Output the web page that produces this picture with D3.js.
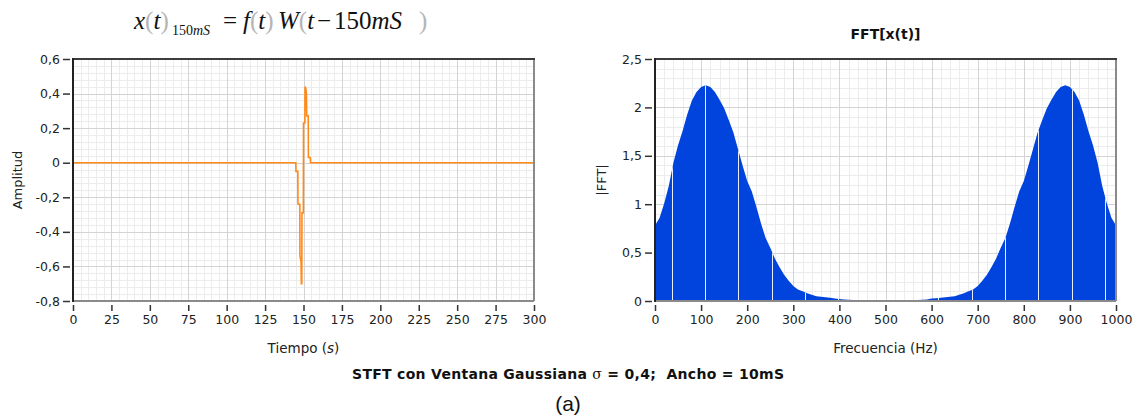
<!DOCTYPE html>
<html><head><meta charset="utf-8">
<script src="https://cdn.jsdelivr.net/npm/d3@7"></script>
<style>
html,body{margin:0;padding:0;background:#fff;}
svg{display:block;}
text{font-family:"DejaVu Sans",sans-serif;}
</style></head>
<body>
<svg id="chart" width="1141" height="418"></svg>
<script>
// ---------- data ----------
const timeTicks = [0,25,50,75,100,125,150,175,200,225,250,275,300];
const ampTicks  = [-0.8,-0.6,-0.4,-0.2,0,0.2,0.4,0.6];
const timeT = [0,145.0,145.1,146.3,146.4,147.6,147.7,148.4,148.6,148.9,149.0,149.9,150.0,150.9,151.0,151.5,151.9,152.1,153.1,153.2,154.4,154.6,300];
const timeV = [0,0,-0.05,-0.05,-0.24,-0.24,-0.54,-0.57,-0.70,-0.70,-0.29,-0.29,0.23,0.23,0.44,0.43,0.40,0.27,0.27,0.03,0.03,0,0];

const freqTicks = [0,100,200,300,400,500,600,700,800,900,1000];
const fftTicks  = [0,0.5,1,1.5,2,2.5];
const freqHz = [0,10,20,30,40,50,60,70,80,90,100,
  110,120,130,140,150,160,170,180,190,200,
  210,220,230,240,250,260,270,280,290,300,
  310,320,330,340,350,360,370,380,390,400,
  410,420,430,440,450,460,470,480,490,500,
  510,520,530,540,550,560,570,580,590,600,
  610,620,630,640,650,660,670,680,690,700,
  710,720,730,740,750,760,770,780,790,800,
  810,820,830,840,850,860,870,880,890,900,
  910,920,930,940,950,960,970,980,990,1000];
const fftMag = [0.78,0.86,1.01,1.19,1.43,1.61,1.76,1.93,2.07,2.16,2.21,
  2.23,2.21,2.16,2.08,1.99,1.87,1.74,1.57,1.40,1.24,
  1.13,0.97,0.80,0.65,0.55,0.44,0.35,0.27,0.21,0.155,
  0.12,0.10,0.08,0.065,0.05,0.044,0.038,0.033,0.025,0.02,
  0.016,0.012,0.010,0.008,0.007,0.006,0.006,0.006,0.005,0.005,
  0.005,0.006,0.006,0.006,0.007,0.008,0.010,0.012,0.016,0.025,
  0.028,0.033,0.038,0.044,0.05,0.065,0.08,0.10,0.12,0.155,
  0.21,0.27,0.35,0.44,0.55,0.65,0.80,0.97,1.13,1.24,
  1.40,1.57,1.74,1.87,1.99,2.08,2.16,2.21,2.23,2.21,
  2.16,2.07,1.93,1.76,1.61,1.43,1.19,1.01,0.86,0.78];

// ---------- layout ----------
const svg = d3.select("#chart");
const fmt = v => String(Math.round(v*10)/10).replace(".", ",");

const L = {x0:73, x1:534, y0:59, y1:301};
const R = {x0:655, x1:1116, y0:59, y1:301};

const xL = d3.scaleLinear().domain([0,300]).range([L.x0,L.x1]);
const yL = d3.scaleLinear().domain([-0.8,0.6]).range([L.y1,L.y0]);
const xR = d3.scaleLinear().domain([0,1000]).range([R.x0,R.x1]);
const yR = d3.scaleLinear().domain([0,2.5]).range([R.y1,R.y0]);

function grid(g, x, y, box, xMinorStep, yMinorStep, xMajor, yMajor){
  const gg = g.append("g").attr("shape-rendering","crispEdges");
  const [xa,xb] = x.domain(), [ya,yb] = y.domain();
  const xm = d3.range(Math.round((xb-xa)/xMinorStep)+1).map(i=>xa+i*xMinorStep);
  const ym = d3.range(Math.round((yb-ya)/yMinorStep)+1).map(i=>ya+i*yMinorStep);
  gg.selectAll(".vm").data(xm).join("line")
    .attr("x1",d=>Math.round(x(d))+0.5).attr("x2",d=>Math.round(x(d))+0.5)
    .attr("y1",box.y0).attr("y2",box.y1).attr("stroke","#ececec");
  gg.selectAll(".hm").data(ym).join("line")
    .attr("y1",d=>Math.round(y(d))+0.5).attr("y2",d=>Math.round(y(d))+0.5)
    .attr("x1",box.x0).attr("x2",box.x1).attr("stroke","#ececec");
  gg.selectAll(".vM").data(xMajor).join("line")
    .attr("x1",d=>Math.round(x(d))+0.5).attr("x2",d=>Math.round(x(d))+0.5)
    .attr("y1",box.y0).attr("y2",box.y1).attr("stroke","#d4d4d4").attr("stroke-width",1.5);
  gg.selectAll(".hM").data(yMajor).join("line")
    .attr("y1",d=>Math.round(y(d))+0.5).attr("y2",d=>Math.round(y(d))+0.5)
    .attr("x1",box.x0).attr("x2",box.x1).attr("stroke","#d4d4d4").attr("stroke-width",1.5);
}

function frame(g, box){
  g.append("line").attr("x1",box.x1).attr("x2",box.x1).attr("y1",box.y0).attr("y2",box.y1)
    .attr("stroke","#8a8a8a").attr("stroke-width",2);
  g.append("line").attr("x1",box.x0).attr("x2",box.x1).attr("y1",box.y1).attr("y2",box.y1)
    .attr("stroke","#8a8a8a").attr("stroke-width",2);
  g.append("line").attr("x1",box.x0).attr("x2",box.x1+1).attr("y1",box.y0).attr("y2",box.y0)
    .attr("stroke","#3c3c3c").attr("stroke-width",2);
  g.append("line").attr("x1",box.x0).attr("x2",box.x0).attr("y1",box.y0-1).attr("y2",box.y1+1)
    .attr("stroke","#222").attr("stroke-width",2);
}

function axes(g, x, y, box, xt, yt){
  const ax = g.append("g").attr("transform",`translate(0,${box.y1+4})`)
    .call(d3.axisBottom(x).tickValues(xt).tickFormat(fmt).tickSize(6).tickPadding(4));
  const ay = g.append("g").attr("transform",`translate(${box.x0-3},0)`)
    .call(d3.axisLeft(y).tickValues(yt).tickFormat(fmt).tickSize(7).tickPadding(3));
  [ax,ay].forEach(a=>{
    a.select(".domain").remove();
    a.selectAll(".tick line").attr("stroke","#333").attr("stroke-width",1.5);
    a.selectAll(".tick text").attr("fill","#222").style("font-family","DejaVu Sans").style("font-size","12.5px");
  });
}

// ---------- left chart ----------
const gl = svg.append("g");
grid(gl, xL, yL, L, 5, 0.04, timeTicks, ampTicks);
const lineL = d3.line().x((d,i)=>xL(timeT[i])).y((d,i)=>yL(timeV[i]));
gl.append("path").datum(timeT).attr("d",lineL).attr("fill","none")
  .attr("stroke","#ff8a1a").attr("stroke-width",1.6).attr("stroke-linejoin","miter");
frame(gl, L);
axes(gl, xL, yL, L, timeTicks, ampTicks);

gl.append("text").attr("transform",`translate(22,${(L.y0+L.y1)/2}) rotate(-90)`)
  .attr("text-anchor","middle").style("font-size","13px").attr("fill","#222").text("Amplitud");
const tl = gl.append("text").attr("x",(L.x0+L.x1)/2).attr("y",353).attr("text-anchor","middle")
  .style("font-size","13.5px").attr("fill","#222");
tl.append("tspan").text("Tiempo (");
tl.append("tspan").style("font-style","italic").text("s");
tl.append("tspan").text(")");

// formula title (pieces anchored horizontally)
const ft = svg.append("text").attr("y",29)
  .style("font-family","Liberation Serif").style("font-size","25px").attr("fill","#111");
const par = "#b5b5b5";
const piece = (txt, opt={}) => {
  const t = ft.append("tspan").text(txt);
  if (opt.x !== undefined) t.attr("x", opt.x);
  if (opt.dy) t.attr("dy", opt.dy);
  if (opt.it) t.style("font-style","italic");
  if (opt.c) t.attr("fill", opt.c);
  if (opt.fs) t.style("font-size", opt.fs);
  return t;
};
piece("x",{x:134,it:1}); piece("(",{c:par}); piece("t",{it:1}); piece(")",{c:par});
piece("150",{x:172,dy:6,fs:"14px"}); piece("mS",{it:1,fs:"14px"});
piece("=",{x:223,dy:-6});
piece("f",{x:243,it:1}); piece("(",{c:par}); piece("t",{it:1}); piece(")",{c:par});
piece("W",{x:278,it:1}); piece("(",{c:par}); piece("t",{it:1});
piece("\u2212",{x:317}); piece("150",{x:334}); piece("mS",{it:1});
piece(")",{x:419,c:par});

// ---------- right chart ----------
const gr = svg.append("g");
grid(gr, xR, yR, R, 20, 0.1, freqTicks, fftTicks);
const area = d3.area().x((d,i)=>xR(freqHz[i])).y0(yR(0)).y1((d,i)=>yR(fftMag[i]));
const fftPath = area(freqHz);
svg.append("clipPath").attr("id","fftClip").append("path").attr("d",fftPath);
gr.append("path").attr("d",fftPath).attr("fill","#0044dd");
// bar-rendering gaps seen inside the filled spectrum
const gaps = d3.range(36, 1000, 72.3);
gr.append("g").attr("clip-path","url(#fftClip)").attr("shape-rendering","crispEdges")
  .selectAll("line").data(gaps).join("line")
  .attr("x1",d=>Math.round(xR(d))+0.5).attr("x2",d=>Math.round(xR(d))+0.5)
  .attr("y1",R.y0).attr("y2",R.y1).attr("stroke","#e8eeff").attr("stroke-width",1);
frame(gr, R);
axes(gr, xR, yR, R, freqTicks, fftTicks);

gr.append("text").attr("transform",`translate(606,${(R.y0+R.y1)/2}) rotate(-90)`)
  .attr("text-anchor","middle").style("font-size","13px").attr("fill","#222").text("|FFT|");
gr.append("text").attr("x",(R.x0+R.x1)/2).attr("y",353).attr("text-anchor","middle")
  .style("font-size","13.5px").attr("fill","#222").text("Frecuencia (Hz)");
gr.append("text").attr("x",(R.x0+R.x1)/2).attr("y",39).attr("text-anchor","middle")
  .style("font-size","14px").style("font-weight","bold").attr("fill","#111").text("FFT[x(t)]");

// ---------- bottom captions ----------
const bt = svg.append("text").attr("x",568).attr("y",379).attr("text-anchor","middle")
  .attr("textLength",432).attr("lengthAdjust","spacing")
  .style("font-size","14px").style("font-weight","bold").style("white-space","pre").attr("fill","#111");
bt.append("tspan").text("STFT con Ventana Gaussiana ");
bt.append("tspan").style("font-weight","normal").style("font-family","DejaVu Serif").text("\u03c3");
bt.append("tspan").text(" = 0,4;  Ancho = 10mS");

svg.append("text").attr("x",568).attr("y",411).attr("text-anchor","middle")
  .style("font-family","Liberation Sans").style("font-size","21px").attr("fill","#111").text("(a)");
</script>
</body></html>
